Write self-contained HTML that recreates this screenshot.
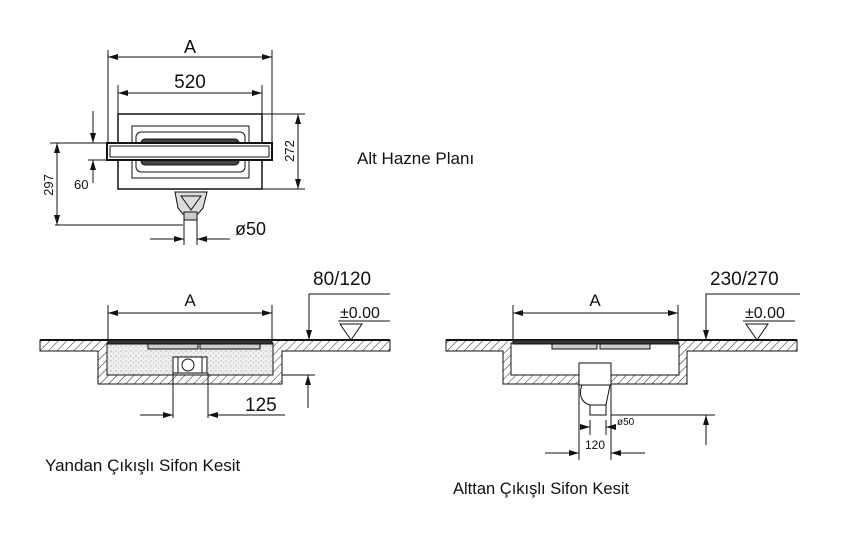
<!DOCTYPE html>
<html><head><style>html,body{margin:0;padding:0;background:#fff}svg{display:block}text{font-family:"Liberation Sans",Arial,sans-serif;fill:#111}</style></head><body>
<svg width="842" height="551" viewBox="0 0 842 551" xmlns="http://www.w3.org/2000/svg">
<defs>
<pattern id="h" width="6" height="6" patternUnits="userSpaceOnUse" patternTransform="rotate(45)"><line x1="0" y1="0" x2="0" y2="6" stroke="#222" stroke-width="1"/></pattern>
<pattern id="s" width="5" height="5" patternUnits="userSpaceOnUse"><rect width="5" height="5" fill="#eee"/><circle cx="1" cy="1" r="0.6" fill="#999"/><circle cx="3.5" cy="3" r="0.5" fill="#aaa"/></pattern>
<marker id="a" markerWidth="10" markerHeight="6" refX="10" refY="3" orient="auto" markerUnits="userSpaceOnUse"><path d="M0,0 L10,3 L0,6z" fill="#111"/></marker>
</defs>
<g stroke="#111" stroke-width="1" fill="none">
<line x1="108" y1="50" x2="108" y2="143"/><line x1="272" y1="50" x2="272" y2="143"/>
<line x1="118" y1="57" x2="108" y2="57" marker-end="url(#a)"/><line x1="118" y1="57" x2="262" y2="57"/><line x1="262" y1="57" x2="272" y2="57" marker-end="url(#a)"/>
<line x1="118" y1="85" x2="118" y2="114"/><line x1="262" y1="85" x2="262" y2="114"/>
<line x1="190" y1="93" x2="118" y2="93" marker-end="url(#a)"/><line x1="190" y1="93" x2="262" y2="93" marker-end="url(#a)"/>
<rect x="118" y="114" width="144" height="75" stroke-width="1.5"/>
<rect x="132" y="126" width="117" height="52"/>
<rect x="136" y="132" width="109" height="40" rx="5"/>
<rect x="141" y="139" width="98" height="26" rx="4" fill="#444"/>
<rect x="107" y="143" width="165" height="17" fill="#fff" stroke-width="2"/>
<rect x="110" y="146" width="159" height="11"/>
<line x1="262" y1="114" x2="305" y2="114"/><line x1="262" y1="189" x2="305" y2="189"/>
<line x1="298" y1="151" x2="298" y2="114" marker-end="url(#a)"/><line x1="298" y1="151" x2="298" y2="189" marker-end="url(#a)"/>
<line x1="93" y1="111" x2="93" y2="143" marker-end="url(#a)"/><line x1="93" y1="183" x2="93" y2="160" marker-end="url(#a)"/>
<line x1="50" y1="143" x2="106" y2="143"/><line x1="88" y1="160" x2="106" y2="160"/>
<line x1="57" y1="185" x2="57" y2="143" marker-end="url(#a)"/><line x1="57" y1="185" x2="57" y2="225" marker-end="url(#a)"/>
<line x1="55" y1="225" x2="183" y2="225"/>
<path d="M175,192 L207,192 L203,208 L198,214 L183,214 L178,208z" fill="#ddd"/>
<path d="M181,196 L201,196 L191,210z"/>
<rect x="184" y="212" width="13" height="8" fill="#ccc"/>
<line x1="184" y1="220" x2="184" y2="245"/><line x1="197" y1="220" x2="197" y2="245"/>
<line x1="150" y1="239" x2="184" y2="239" marker-end="url(#a)"/><line x1="230" y1="239" x2="197" y2="239" marker-end="url(#a)"/>

<line x1="108" y1="305" x2="108" y2="340"/><line x1="272" y1="305" x2="272" y2="340"/>
<line x1="190" y1="313" x2="108" y2="313" marker-end="url(#a)"/><line x1="190" y1="313" x2="272" y2="313" marker-end="url(#a)"/>
<path d="M40,340 H390 V351 H282 V384 H98 V351 H40z" fill="url(#h)"/>
<rect x="107" y="343" width="166" height="32" fill="url(#s)" stroke="#111"/>
<line x1="40" y1="340" x2="390" y2="340" stroke-width="2"/>
<rect x="108" y="340" width="164" height="4" fill="#333"/>
<rect x="148" y="344" width="50" height="5" fill="#ccc"/><rect x="200" y="344" width="60" height="5" fill="#ccc"/>
<rect x="173" y="357" width="34" height="16" fill="#fff"/><circle cx="188" cy="365" r="6"/><line x1="178" y1="357" x2="178" y2="373"/><line x1="202" y1="357" x2="202" y2="373"/>
<line x1="173" y1="373" x2="173" y2="418"/><line x1="208" y1="373" x2="208" y2="418"/>
<line x1="140" y1="415" x2="173" y2="415" marker-end="url(#a)"/><line x1="285" y1="415" x2="208" y2="415" marker-end="url(#a)"/>
<line x1="282" y1="375" x2="315" y2="375"/><line x1="308" y1="408" x2="308" y2="375" marker-end="url(#a)"/>
<polyline points="390,294 309,294 309,340" /><line x1="309" y1="300" x2="309" y2="340" marker-end="url(#a)"/>
<line x1="338" y1="321" x2="390" y2="321"/><path d="M340,324 L362,324 L351,340z"/>

<line x1="513" y1="305" x2="513" y2="340"/><line x1="678" y1="305" x2="678" y2="340"/>
<line x1="595" y1="313" x2="513" y2="313" marker-end="url(#a)"/><line x1="595" y1="313" x2="678" y2="313" marker-end="url(#a)"/>
<path d="M446,340 H797 V351 H687 V384 H503 V351 H446z" fill="url(#h)"/>
<rect x="511" y="343" width="168" height="32" fill="#fff" stroke="#111"/>
<line x1="446" y1="340" x2="797" y2="340" stroke-width="2"/>
<rect x="513" y="340" width="165" height="4" fill="#333"/>
<rect x="552" y="344" width="45" height="5" fill="#ccc"/><rect x="600" y="344" width="50" height="5" fill="#ccc"/>
<rect x="579" y="363" width="32" height="22" fill="#fff"/>
<path d="M582,385 C578,395 582,403 590,405 L606,405 L610,385z" fill="#fff"/>
<rect x="590" y="405" width="16" height="10" fill="#fff"/>
<line x1="579" y1="385" x2="579" y2="460"/><line x1="611" y1="385" x2="611" y2="460"/>
<line x1="611" y1="415" x2="715" y2="415"/><line x1="706" y1="445" x2="706" y2="415" marker-end="url(#a)"/>
<line x1="590" y1="420" x2="590" y2="435"/><line x1="606" y1="420" x2="606" y2="435"/>
<line x1="580" y1="427" x2="590" y2="427" marker-end="url(#a)"/><line x1="616" y1="427" x2="606" y2="427" marker-end="url(#a)"/>
<line x1="545" y1="453" x2="579" y2="453" marker-end="url(#a)"/><line x1="645" y1="453" x2="611" y2="453" marker-end="url(#a)"/>
<polyline points="800,294 706,294 706,330"/><line x1="706" y1="300" x2="706" y2="340" marker-end="url(#a)"/>
<line x1="743" y1="321" x2="795" y2="321"/><path d="M746,324 L768,324 L757,340z"/>
</g>
<g stroke="none">
<text x="190" y="53" font-size="18" text-anchor="middle">A</text>
<text x="190" y="88" font-size="19" text-anchor="middle">520</text>
<text x="294" y="151" font-size="13" text-anchor="middle" transform="rotate(-90 294 151)">272</text>
<text x="53" y="185" font-size="13" text-anchor="middle" transform="rotate(-90 53 185)">297</text>
<text x="74" y="189" font-size="13">60</text>
<text x="235" y="235" font-size="18">ø50</text>
<text x="357" y="164" font-size="17">Alt Hazne Planı</text>
<text x="190" y="306" font-size="17" text-anchor="middle">A</text>
<text x="313" y="285" font-size="19">80/120</text>
<text x="340" y="318" font-size="16">±0.00</text>
<text x="245" y="411" font-size="19">125</text>
<text x="45" y="471" font-size="17">Yandan Çıkışlı Sifon Kesit</text>
<text x="595" y="306" font-size="17" text-anchor="middle">A</text>
<text x="710" y="285" font-size="19">230/270</text>
<text x="745" y="318" font-size="16">±0.00</text>
<text x="617" y="425" font-size="10">ø50</text>
<text x="585" y="449" font-size="12">120</text>
<text x="453" y="494" font-size="16.5">Alttan Çıkışlı Sifon Kesit</text>
</g>
</svg>
</body></html>
